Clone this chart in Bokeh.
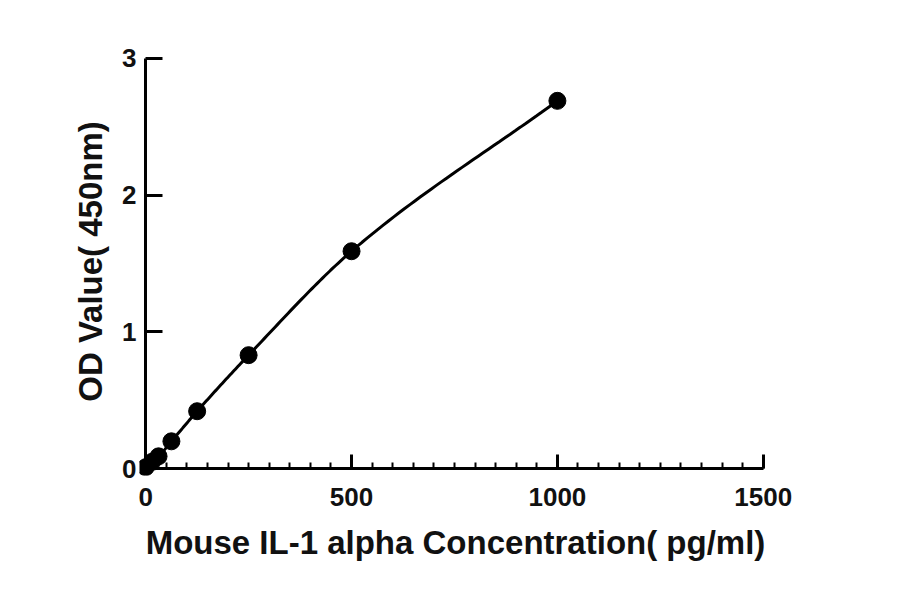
import numpy as np
from bokeh.embed import file_html
from bokeh.models import LinearAxis, Range1d, SingleIntervalTicker
from bokeh.plotting import figure
from bokeh.resources import INLINE

# standard curve readings
conc = [0, 15.6, 31.25, 62.5, 125, 250, 500, 1000]
od = [0.01, 0.05, 0.09, 0.2, 0.42, 0.83, 1.59, 2.69]

x_major = 500
y_major = 1

FONT = "Liberation Sans"


def smooth_curve(x, y, n=40):
    """Monotone cubic (pchip style) through the standards, for the fitted line"""
    x = np.asarray(x, float)
    y = np.asarray(y, float)
    h = np.diff(x)
    d = np.diff(y) / h
    m = np.empty_like(y)
    m[0], m[-1] = d[0], d[-1]
    for k in range(1, len(x) - 1):
        w1 = 2 * h[k] + h[k - 1]
        w2 = h[k] + 2 * h[k - 1]
        m[k] = (w1 + w2) / (w1 / d[k - 1] + w2 / d[k])
    xs, ys = [], []
    for k in range(len(x) - 1):
        t = np.linspace(0, 1, n)
        h00 = 2 * t**3 - 3 * t**2 + 1
        h10 = t**3 - 2 * t**2 + t
        h01 = -2 * t**3 + 3 * t**2
        h11 = t**3 - t**2
        xs.extend(x[k] + t * h[k])
        ys.extend(h00 * y[k] + h10 * h[k] * m[k] + h01 * y[k + 1] + h11 * h[k] * m[k + 1])
    return xs, ys


p = figure(width=884, height=578, output_backend="svg", toolbar_location=None,
           x_range=Range1d(-15, 1520), y_range=Range1d(-0.05, 3.08),
           x_axis_type=None, y_axis_type=None,
           min_border_left=139, min_border_right=113,
           min_border_top=47, min_border_bottom=103)
p.outline_line_color = None
p.grid.visible = False


def text_style(ax):
    ax.major_label_text_font = FONT
    ax.major_label_text_font_style = "bold"
    ax.major_label_text_font_size = "26px"
    ax.major_label_text_color = "#111111"
    ax.axis_label_text_font = FONT
    ax.axis_label_text_font_style = "bold"
    ax.axis_label_text_font_size = "33px"
    ax.axis_label_text_color = "#111111"


def line_style(ax):
    ax.axis_line_width = 3
    ax.axis_line_color = "black"
    ax.major_tick_line_width = 3
    ax.minor_tick_line_width = 2
    ax.major_tick_out = 0
    ax.minor_tick_out = 0
    ax.major_label_text_color = None
    ax.major_label_text_alpha = 0


# label axes sit on the frame edges (not clipped)
xlab = LinearAxis(ticker=SingleIntervalTicker(interval=x_major, num_minor_ticks=0),
                  axis_label="Mouse IL-1 alpha Concentration( pg/ml)")
text_style(xlab)
xlab.axis_line_color = None
xlab.major_tick_line_color = None
xlab.minor_tick_line_color = None
xlab.major_tick_out = 0
xlab.major_label_standoff = 12
xlab.axis_label_standoff = 15
p.add_layout(xlab, "below")

ylab = LinearAxis(ticker=SingleIntervalTicker(interval=y_major, num_minor_ticks=0),
                  axis_label="OD Value( 450nm)")
text_style(ylab)
ylab.axis_line_color = None
ylab.major_tick_line_color = None
ylab.minor_tick_line_color = None
ylab.major_tick_out = 0
ylab.major_label_standoff = 3
ylab.axis_label_standoff = 10
p.add_layout(ylab, "left")

# axis lines and ticks at the data zero
xaxis = LinearAxis(fixed_location=0, bounds=(0, 1500),
                   ticker=SingleIntervalTicker(interval=x_major, num_minor_ticks=10))
line_style(xaxis)
xaxis.major_tick_in = 14
xaxis.minor_tick_in = 6
p.add_layout(xaxis, "below")

yaxis = LinearAxis(fixed_location=0, bounds=(0, 3),
                   ticker=SingleIntervalTicker(interval=y_major, num_minor_ticks=0))
line_style(yaxis)
yaxis.major_tick_in = 17
yaxis.minor_tick_in = 0
p.add_layout(yaxis, "left")

cx, cy = smooth_curve(conc, od)
p.line(cx, cy, line_color="black", line_width=3)
p.scatter(conc, od, size=17, color="black")

open("out.html", "w").write(file_html(p, INLINE))
